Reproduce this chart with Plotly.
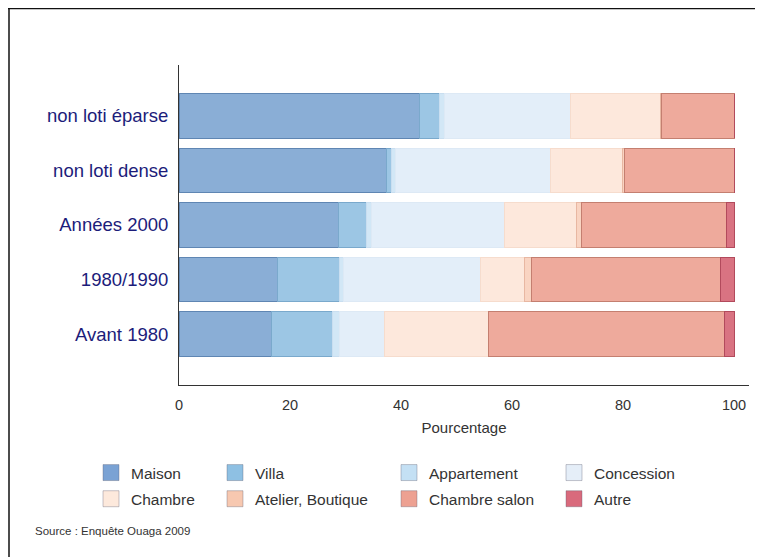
import plotly.graph_objects as go

categories = ["Avant 1980", "1980/1990", "Années 2000", "non loti dense", "non loti éparse"]
series_names = ["Maison", "Villa", "Appartement", "Concession",
                "Chambre", "Atelier, Boutique", "Chambre salon", "Autre"]
# values per category order above (bottom to top)
maison = [16.7, 17.7, 28.8, 37.4, 43.3]
villa = [10.9, 11.2, 4.9, 0.8, 3.6]
appartement = [1.3, 0.8, 1.0, 0.8, 1.0]
concession = [8.2, 24.7, 24.0, 28.0, 22.7]
chambre = [18.6, 7.8, 13.0, 12.9, 16.1]
atelier = [0.0, 1.4, 0.9, 0.3, 0.3]
chambre_salon = [42.5, 33.9, 26.0, 19.8, 13.0]
autre = [1.8, 2.5, 1.4, 0.0, 0.0]
x_ticks = [0, 20, 40, 60, 80, 100]

values = [maison, villa, appartement, concession, chambre, atelier, chambre_salon, autre]
bar_colors = ["#8aaed6", "#9cc6e4", "#d2e7f6", "#e3eef9",
              "#fde8dc", "#f9d4c2", "#eeaa9c", "#d97382"]
bar_lines = ["#5f86b3", "#7aa9cc", "#c9def0", "#dde9f5",
             "#f6dccd", "#e8b7a2", "#c47f70", "#b24a5c"]
legend_colors = ["#7aa2d4", "#8ec0e3", "#c4e0f4", "#e5eef8",
                 "#fde9dc", "#f7c8b0", "#eda192", "#d96a7c"]
legend_ids = ["legend", "legend2", "legend3", "legend4",
              "legend", "legend2", "legend3", "legend4"]

fig = go.Figure()
for name, vals, c, lc in zip(series_names, values, bar_colors, bar_lines):
    fig.add_trace(go.Bar(
        y=categories, x=vals, name=name, orientation="h",
        marker=dict(color=c, line=dict(color=lc, width=1)),
        width=0.81, showlegend=False,
    ))

for name, c, lid in zip(series_names, legend_colors, legend_ids):
    fig.add_trace(go.Scatter(
        x=[None], y=[None], mode="markers", name=name,
        marker=dict(symbol="square", size=16, color=c,
                    line=dict(color="rgba(90,90,110,0.35)", width=1)),
        legend=lid, legendgroup=name, showlegend=True,
    ))

# the page body adds an 8px offset; figure sized to fit the window
OFF = 8
W, H = 763 - OFF, 557 - OFF
ml, mr, mt, mb = 179 - OFF, 14, 65 - OFF, 172
pw = W - ml - mr
ph = H - mt - mb

def px(page_x):
    return (page_x - OFF - ml) / pw

def py(page_y):
    return (H - mb - (page_y - OFF)) / ph

FONT = "Liberation Sans, Arial"
leg_common = dict(orientation="v", bgcolor="rgba(0,0,0,0)",
                  font=dict(family=FONT, size=15.5, color="#333333"),
                  tracegroupgap=3, xanchor="left", yanchor="top", itemsizing="trace")
swatch_centers = [110, 234, 408, 573]
leg_top = 456

layout_legends = {}
for i, cx in enumerate(swatch_centers):
    key = "legend" if i == 0 else f"legend{i + 1}"
    layout_legends[key] = dict(x=px(cx - 19), y=py(leg_top), **leg_common)

fig.update_layout(
    width=W, height=H,
    margin=dict(l=ml, r=mr, t=mt, b=mb),
    paper_bgcolor="white", plot_bgcolor="white",
    barmode="stack",
    font=dict(family=FONT, color="#333333"),
    xaxis=dict(range=[0, 102.7], tickvals=x_ticks, showgrid=False, zeroline=False,
               showline=True, linecolor="#333333", linewidth=1, ticks="",
               tickfont=dict(size=14.5, color="#333333"), ticklabelstandoff=7,
               title=dict(text="Pourcentage", font=dict(size=15, color="#333333"), standoff=10)),
    yaxis=dict(range=[-0.935, 4.935], showgrid=False, zeroline=False,
               showline=True, linecolor="#333333", linewidth=1, ticks="",
               tickfont=dict(size=18.5, color="#1c1c7a"), ticklabelstandoff=6),
    showlegend=True,
    **layout_legends,
)

fig.add_annotation(
    text="Source : Enquête Ouaga 2009", xref="paper", yref="paper",
    x=px(33), y=py(531), xanchor="left", yanchor="middle", showarrow=False,
    font=dict(size=11.5, color="#333333", family=FONT),
)

# frame lines (top and left) of the original figure
fig.add_shape(type="line", xref="paper", yref="paper",
              x0=px(8), x1=px(763), y0=py(8.5), y1=py(8.5),
              line=dict(color="#111111", width=1.5))
fig.add_shape(type="line", xref="paper", yref="paper",
              x0=px(9), x1=px(9), y0=py(8), y1=py(557),
              line=dict(color="#111111", width=1.5))

fig.write_html("out.html")
